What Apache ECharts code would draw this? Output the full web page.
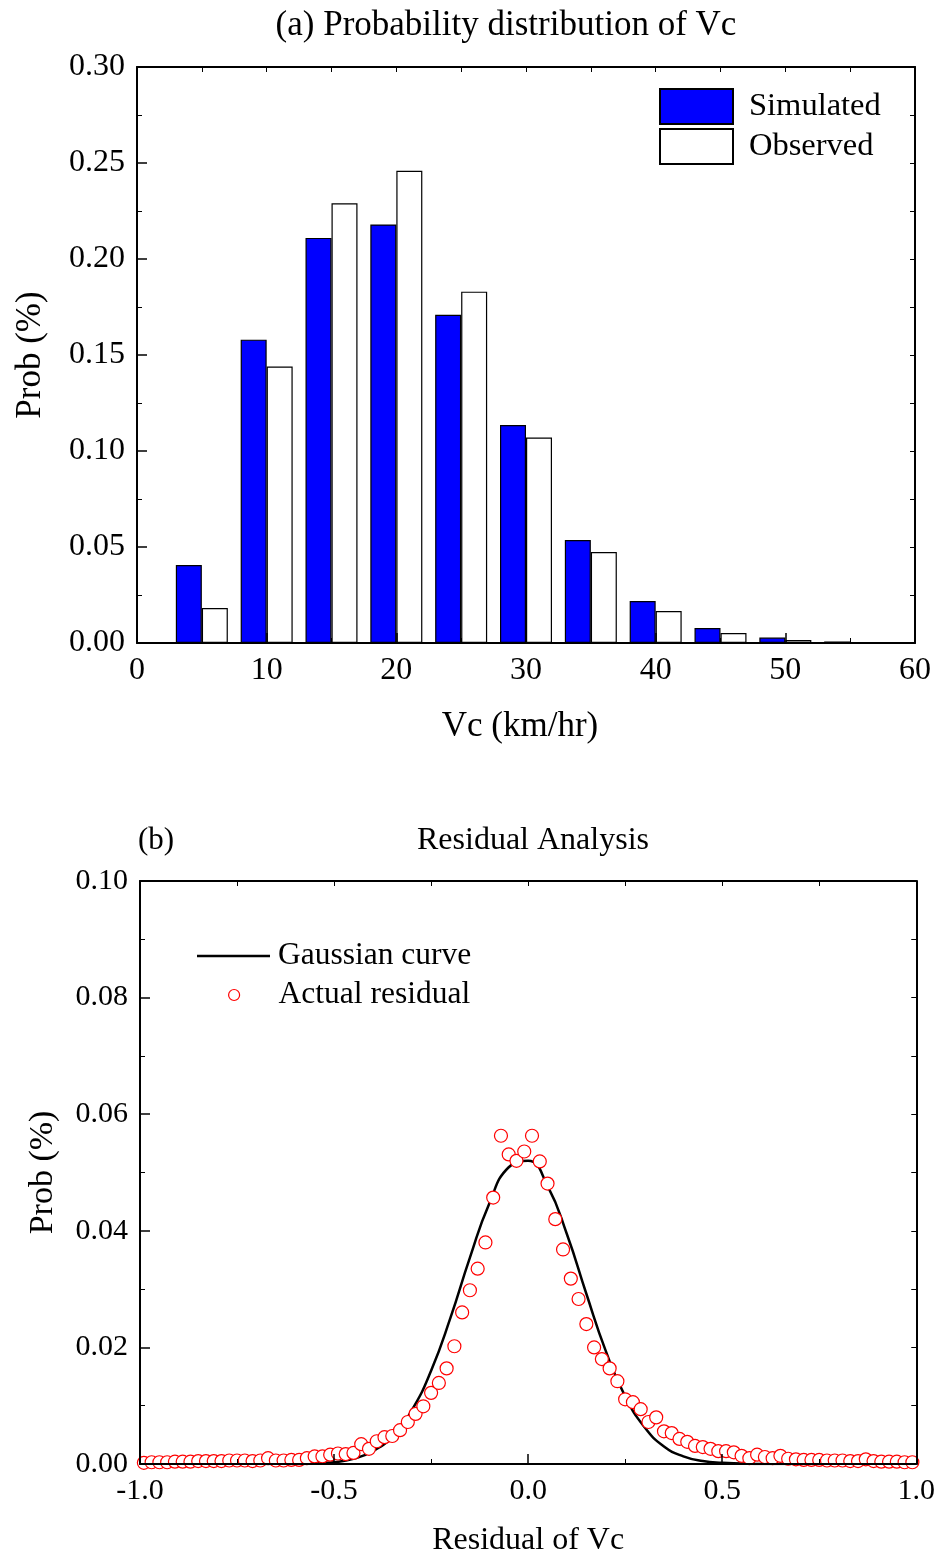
<!DOCTYPE html>
<html>
<head>
<meta charset="utf-8">
<script src="https://cdn.jsdelivr.net/npm/echarts@6/dist/echarts.min.js"></script>
<style>html,body{margin:0;padding:0;background:#fff}#c{width:938px;height:1558px}</style>
</head>
<body>
<div id="c"></div>
<script>
// ---- Panel (a) data ----
const binCenters = [5, 10, 15, 20, 25, 30, 35, 40, 45, 50, 55];
const simulated = [0.0406, 0.158, 0.211, 0.218, 0.171, 0.1135, 0.0536, 0.0219, 0.0078, 0.0028, 0.0008];
const observed  = [0.0182, 0.144, 0.229, 0.246, 0.183, 0.107, 0.0474, 0.0167, 0.0052, 0.0016, 0.0004];
const xTicksA = [0, 10, 20, 30, 40, 50, 60];
const yTicksA = [0, 0.05, 0.10, 0.15, 0.20, 0.25, 0.30];

// ---- Panel (b) data ----
const gaussX = [-1.00,-0.95,-0.90,-0.85,-0.80,-0.75,-0.70,-0.65,-0.60,-0.55,-0.50,-0.45,-0.40,-0.35,-0.30,-0.25,-0.20,-0.15,-0.10,-0.05,0.00,0.05,0.10,0.15,0.20,0.25,0.30,0.35,0.40,0.45,0.50,0.55,0.60,0.65,0.70,0.75,0.80,0.85,0.90,0.95,1.00];
const gaussY = [0,0,0,0,0,0,0,0,0,0.0001,0.0003,0.0009,0.0022,0.0047,0.0092,0.0160,0.0251,0.0354,0.0447,0.0509,0.0520,0.0477,0.0394,0.0292,0.0194,0.0116,0.0063,0.0030,0.0013,0.0005,0.0002,0.0001,0,0,0,0,0,0,0,0,0];
const residX = [-0.99,-0.97,-0.95,-0.93,-0.91,-0.89,-0.87,-0.85,-0.83,-0.81,-0.79,-0.77,-0.75,-0.73,-0.71,-0.69,-0.67,-0.65,-0.63,-0.61,-0.59,-0.57,-0.55,-0.53,-0.51,-0.49,-0.47,-0.45,-0.43,-0.41,-0.39,-0.37,-0.35,-0.33,-0.31,-0.29,-0.27,-0.25,-0.23,-0.21,-0.19,-0.17,-0.15,-0.13,-0.11,-0.09,-0.07,-0.05,-0.03,-0.01,0.01,0.03,0.05,0.07,0.09,0.11,0.13,0.15,0.17,0.19,0.21,0.23,0.25,0.27,0.29,0.31,0.33,0.35,0.37,0.39,0.41,0.43,0.45,0.47,0.49,0.51,0.53,0.55,0.57,0.59,0.61,0.63,0.65,0.67,0.69,0.71,0.73,0.75,0.77,0.79,0.81,0.83,0.85,0.87,0.89,0.91,0.93,0.95,0.97,0.99];
const residY = [0.0002,0.0003,0.0003,0.0003,0.0004,0.0004,0.0004,0.0005,0.0005,0.0005,0.0005,0.0006,0.0006,0.0006,0.0005,0.0006,0.0010,0.0006,0.0006,0.0007,0.0007,0.0010,0.0013,0.0013,0.0016,0.0018,0.0017,0.0019,0.0034,0.0026,0.0039,0.0046,0.0048,0.0058,0.0072,0.0086,0.0099,0.0122,0.0139,0.0164,0.0202,0.0260,0.0298,0.0335,0.0380,0.0457,0.0563,0.0531,0.0520,0.0536,0.0563,0.0519,0.0481,0.0420,0.0368,0.0318,0.0283,0.0240,0.0200,0.0180,0.0164,0.0142,0.0111,0.0106,0.0094,0.0072,0.0080,0.0056,0.0053,0.0043,0.0038,0.0031,0.0029,0.0026,0.0022,0.0022,0.0020,0.0014,0.0010,0.0016,0.0012,0.0010,0.0014,0.0009,0.0008,0.0007,0.0007,0.0007,0.0006,0.0006,0.0006,0.0005,0.0005,0.0008,0.0005,0.0004,0.0004,0.0004,0.0003,0.0003];
const xTicksB = [-1.0, -0.5, 0.0, 0.5, 1.0];
const yTicksB = [0, 0.02, 0.04, 0.06, 0.08, 0.10];

const FONT = '"Liberation Serif", "Times New Roman", serif';
const chart = echarts.init(document.getElementById('c'), null, {renderer: 'canvas'});

function mainX(min, max, interval, dec, name, gap, fs, nfs, npad) {
  return {
    type: 'value', min: min, max: max, interval: interval, position: 'bottom', z: 10,
    axisLine: {show: true, onZero: false, lineStyle: {color: '#000', width: 2}},
    axisTick: {show: true, inside: true, length: 10, lineStyle: {color: '#000', width: 1.5}},
    minorTick: {show: true, splitNumber: 2, length: 5, lineStyle: {color: '#000', width: 1}},
    axisLabel: {color: '#000', fontSize: fs, fontFamily: FONT, margin: 12, formatter: v => v.toFixed(dec)},
    splitLine: {show: false},
    name: name, nameLocation: 'middle', nameGap: gap,
    nameTextStyle: {color: '#000', fontSize: nfs, fontFamily: FONT, padding: npad}
  };
}
function topX(min, max, interval) {
  return {
    type: 'value', min: min, max: max, interval: interval, position: 'top', z: 10,
    axisLine: {show: true, onZero: false, lineStyle: {color: '#000', width: 2}},
    axisTick: {show: true, inside: true, length: 5, lineStyle: {color: '#000', width: 1}},
    axisLabel: {show: false}, splitLine: {show: false}
  };
}
function mainY(min, max, interval, dec, name, gap, fs, nfs) {
  return {
    type: 'value', min: min, max: max, interval: interval, position: 'left', z: 10,
    axisLine: {show: true, onZero: false, lineStyle: {color: '#000', width: 2}},
    axisTick: {show: true, inside: true, length: 10, lineStyle: {color: '#000', width: 1.5}},
    minorTick: {show: true, splitNumber: 2, length: 5, lineStyle: {color: '#000', width: 1}},
    axisLabel: {color: '#000', fontSize: fs, fontFamily: FONT, margin: 12, formatter: v => v.toFixed(dec)},
    splitLine: {show: false},
    name: name, nameLocation: 'middle', nameGap: gap,
    nameTextStyle: {color: '#000', fontSize: nfs, fontFamily: FONT}
  };
}
function rightY(min, max, interval) {
  return {
    type: 'value', min: min, max: max, interval: interval, position: 'right', z: 10,
    axisLine: {show: true, onZero: false, lineStyle: {color: '#000', width: 2}},
    axisTick: {show: true, inside: true, length: 5, lineStyle: {color: '#000', width: 1}},
    axisLabel: {show: false}, splitLine: {show: false}
  };
}

const xa = [
  mainX(0, 60, 10, 0, 'Vc (km/hr)', 66, 32, 35, [0, 12, 0, 0]),
  topX(0, 60, 5),
  mainX(-1, 1, 0.5, 1, 'Residual of Vc', 61, 30, 32, [0, 0, 0, 0]),
  topX(-1, 1, 0.25)
];
xa.forEach((a, i) => { a.gridIndex = i >= 2 ? 1 : 0; });
const ya = [
  mainY(0, 0.3, 0.05, 2, 'Prob (%)', 89, 32, 35),
  rightY(0, 0.3, 0.025),
  mainY(0, 0.1, 0.02, 2, 'Prob (%)', 80, 30, 34),
  rightY(0, 0.1, 0.01)
];
ya.forEach((a, i) => { a.gridIndex = i >= 2 ? 1 : 0; });

const option = {
  animation: false,
  backgroundColor: '#fff',
  textStyle: {fontFamily: FONT},
  graphic: [
    {type: 'text', x: 506, y: 26, style: {text: '(a) Probability distribution of Vc', fontSize: 35, fontFamily: FONT, fill: '#000', textAlign: 'center', textVerticalAlign: 'middle'}},
    {type: 'text', x: 138, y: 841, style: {text: '(b)', fontSize: 31, fontFamily: FONT, fill: '#000', textAlign: 'left', textVerticalAlign: 'middle'}},
    {type: 'text', x: 533, y: 841, style: {text: 'Residual Analysis', fontSize: 32, fontFamily: FONT, fill: '#000', textAlign: 'center', textVerticalAlign: 'middle'}}
  ],
  grid: [
    {left: 137, top: 67, width: 778, height: 576, containLabel: false},
    {left: 140, top: 881, width: 778, height: 584, containLabel: false}
  ],
  xAxis: xa,
  yAxis: ya,
  legend: [
    {data: [{name: 'Simulated', icon: 'rect'}], left: 659, top: 88, padding: 0, orient: 'vertical', itemWidth: 73, itemHeight: 35,
     textStyle: {fontSize: 32.5, fontFamily: FONT, color: '#000', padding: [2, 0, 0, 11]}, selectedMode: false},
    {data: [{name: 'Observed', icon: 'rect'}], left: 659, top: 128, padding: 0, orient: 'vertical', itemWidth: 73, itemHeight: 35,
     textStyle: {fontSize: 32.5, fontFamily: FONT, color: '#000', padding: [2, 0, 0, 11]}, selectedMode: false},
    {data: [{name: 'Gaussian curve', icon: 'rect'}], left: 197, top: 940, padding: 0, orient: 'vertical', itemWidth: 73, itemHeight: 2.5,
     textStyle: {fontSize: 31.5, fontFamily: FONT, color: '#000', padding: [0, 0, 0, 3]}, selectedMode: false},
    {data: [{name: 'Actual residual', icon: 'circle'}], left: 228, top: 979, padding: 0, orient: 'vertical', itemWidth: 11, itemHeight: 11,
     itemStyle: {borderWidth: 1.2},
     textStyle: {fontSize: 31.5, fontFamily: FONT, color: '#000', padding: [0, 0, 0, 34]}, selectedMode: false}
  ],
  series: [
    {name: 'Simulated', type: 'bar', xAxisIndex: 0, yAxisIndex: 0,
     data: binCenters.map((c, i) => [c, simulated[i]]),
     barWidth: 26, barGap: '0%',
     itemStyle: {color: '#0000ff', borderColor: '#000', borderWidth: 1.2}},
    {name: 'Observed', type: 'bar', xAxisIndex: 0, yAxisIndex: 0,
     data: binCenters.map((c, i) => [c, observed[i]]),
     barWidth: 26, barGap: '0%',
     itemStyle: {color: '#ffffff', borderColor: '#000', borderWidth: 1.2}},
    {name: 'Gaussian curve', type: 'line', xAxisIndex: 2, yAxisIndex: 2,
     data: gaussX.map((x, i) => [x, gaussY[i]]),
     smooth: 0.5, showSymbol: false, symbol: 'none',
     lineStyle: {color: '#000', width: 2.5}, itemStyle: {color: '#000'}, z: 2},
    {name: 'Actual residual', type: 'scatter', xAxisIndex: 2, yAxisIndex: 2,
     data: residX.map((x, i) => [x, residY[i]]),
     symbol: 'circle', symbolSize: 13,
     itemStyle: {color: '#ffffff', borderColor: '#ff0000', borderWidth: 1.2, opacity: 1}, z: 3}
  ]
};
chart.setOption(option);
</script>
</body>
</html>
